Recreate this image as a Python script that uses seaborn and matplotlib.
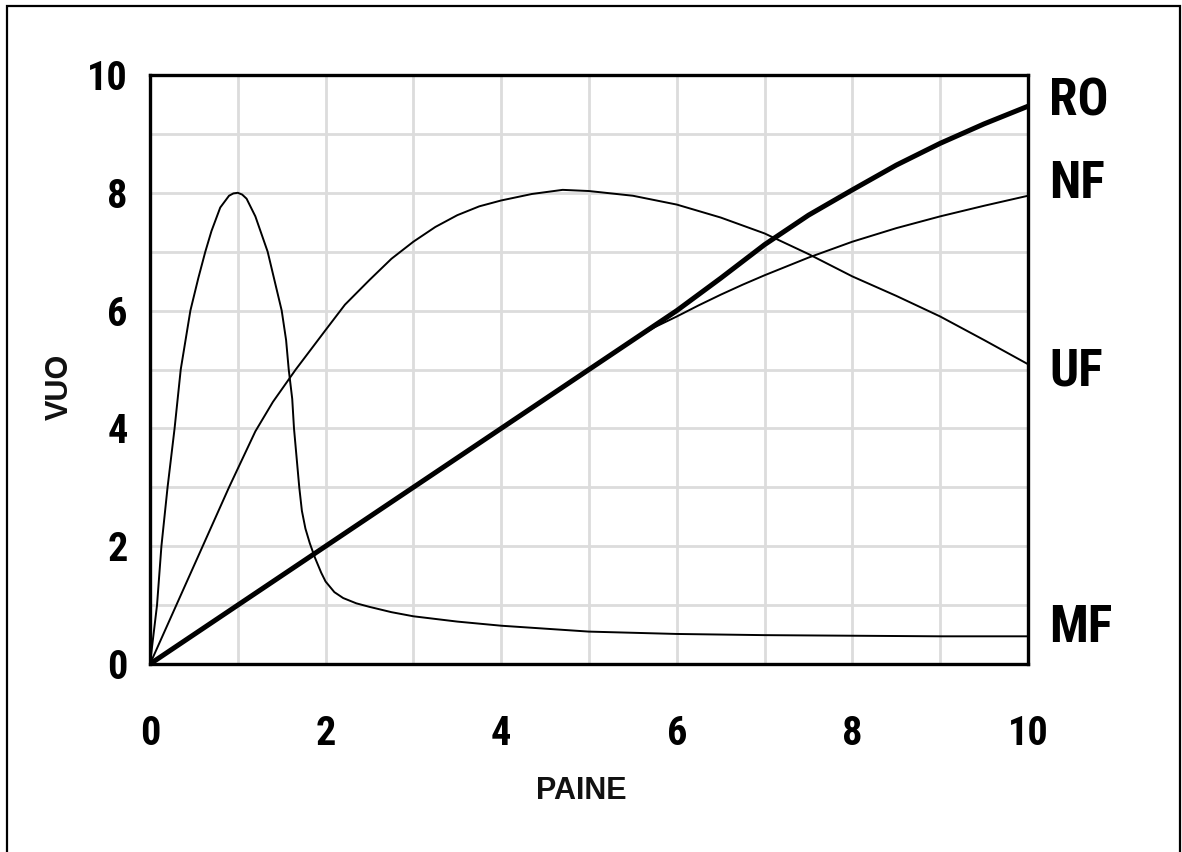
import matplotlib
matplotlib.use("Agg")
import matplotlib.pyplot as plt
from matplotlib import font_manager
from matplotlib.font_manager import FontProperties
from matplotlib.patches import Rectangle
import seaborn as sns
import pandas as pd

# ---- data ----
x_ticks = [0, 2, 4, 6, 8, 10]
y_ticks = [0, 2, 4, 6, 8, 10]

mf_x = [0, 0.08, 0.13, 0.2, 0.28, 0.35, 0.46, 0.55, 0.63, 0.7, 0.8, 0.9, 0.95, 1.0, 1.05, 1.1,
        1.2, 1.27, 1.34, 1.42, 1.5, 1.55, 1.58, 1.62, 1.64, 1.67, 1.7, 1.73, 1.77, 1.82, 1.88,
        1.95, 2.0, 2.1, 2.2, 2.35, 2.5, 2.75, 3.0, 3.5, 4.0, 4.5, 5.0, 6.0, 7.0, 8.0, 9.0, 10.0]
mf_y = [0, 1, 2, 3, 4, 5, 6, 6.55, 7.0, 7.35, 7.75, 7.95, 7.99, 8.0, 7.97, 7.9,
        7.6, 7.3, 7.0, 6.5, 6.0, 5.5, 5.0, 4.5, 4.0, 3.5, 3.0, 2.6, 2.3, 2.05, 1.8,
        1.55, 1.4, 1.22, 1.12, 1.03, 0.97, 0.88, 0.81, 0.72, 0.65, 0.6, 0.55, 0.51, 0.49, 0.48, 0.47, 0.47]

uf_x = [0, 0.3, 0.6, 0.9, 1.2, 1.4, 1.66, 2.0, 2.22, 2.5, 2.75, 3.0, 3.25, 3.5, 3.75, 4.0,
        4.35, 4.7, 5.0, 5.5, 6.0, 6.5, 7.0, 7.5, 8.0, 8.5, 9.0, 9.5, 10.0]
uf_y = [0, 1, 2, 3, 3.95, 4.45, 5.0, 5.67, 6.1, 6.52, 6.88, 7.17, 7.42, 7.62, 7.77, 7.87,
        7.98, 8.05, 8.03, 7.95, 7.8, 7.58, 7.31, 6.96, 6.58, 6.25, 5.9, 5.5, 5.09]

nf_x = [0, 5.5, 5.75, 6, 6.25, 6.5, 6.75, 7, 7.5, 8, 8.5, 9, 9.5, 10]
nf_y = [0, 5.5, 5.72, 5.9, 6.09, 6.27, 6.44, 6.6, 6.9, 7.17, 7.4, 7.6, 7.78, 7.95]

ro_x = [0, 5, 6, 6.5, 7, 7.5, 8, 8.5, 9, 9.5, 10]
ro_y = [0, 5, 6, 6.55, 7.12, 7.62, 8.05, 8.47, 8.84, 9.17, 9.47]

series_names = ["RO", "NF", "UF", "MF"]
x_label = "PAINE"
y_label = "VUO"

# ---- fonts ----
regular = "Liberation Sans"


def _is_condensed(st):
    if isinstance(st, str):
        return "condensed" in st or "narrow" in st
    try:
        return int(st) < 500
    except Exception:
        return False


def pick_narrow_bold():
    entries = font_manager.fontManager.ttflist
    for e in entries:
        if e.name == "Liberation Sans Narrow" and str(e.weight) in ("bold", "700"):
            return FontProperties(fname=e.fname)
    for fam in ("Roboto Condensed", "Open Sans Condensed", "Noto Sans", "Open Sans", "Roboto"):
        for e in entries:
            if (e.name == fam or e.name.startswith(fam)) and _is_condensed(e.stretch) \
                    and str(e.weight) in ("bold", "700", "semibold", "600"):
                return FontProperties(fname=e.fname)
    return FontProperties(family=regular, weight="bold")


narrow_fp = pick_narrow_bold()

sns.set_theme(style="white")
plt.rcParams["font.family"] = [regular, "DejaVu Sans"]

W, H = 1182, 852
fig = plt.figure(figsize=(W / 100, H / 100), dpi=100)
ax = fig.add_axes([150 / W, 1 - 664 / H, (1028 - 150) / W, (664 - 75) / H])

# grid
ax.set_axisbelow(True)
ax.set_xticks(range(0, 11), minor=True)
ax.set_yticks(range(0, 11), minor=True)
ax.grid(which="minor", color="#dcdcdc", linewidth=2.0)
ax.grid(which="major", color="#dcdcdc", linewidth=2.0)

df_mf = pd.DataFrame({"x": mf_x, "y": mf_y})
df_uf = pd.DataFrame({"x": uf_x, "y": uf_y})
df_nf = pd.DataFrame({"x": nf_x, "y": nf_y})
df_ro = pd.DataFrame({"x": ro_x, "y": ro_y})

for d in (df_mf, df_uf, df_nf):
    sns.lineplot(data=d, x="x", y="y", ax=ax, color="black", linewidth=1.4,
                 sort=False, estimator=None, solid_joinstyle="round")
sns.lineplot(data=df_ro, x="x", y="y", ax=ax, color="black", linewidth=3.6,
             sort=False, estimator=None, solid_joinstyle="round")

ax.set_xlim(0, 10)
ax.set_ylim(0, 10)
ax.set_xticks(x_ticks)
ax.set_yticks(y_ticks)
ax.set_xticklabels([str(t) for t in x_ticks])
ax.set_yticklabels([str(t) for t in y_ticks])
ax.tick_params(axis="both", which="both", length=0)
ax.tick_params(axis="x", pad=37)
ax.tick_params(axis="y", pad=16)
tick_fp = narrow_fp.copy()
tick_fp.set_size(29)
for lab in ax.get_xticklabels() + ax.get_yticklabels():
    lab.set_fontproperties(tick_fp)
    lab.set_color("black")

for s in ax.spines.values():
    s.set_visible(True)
    s.set_color("black")
    s.set_linewidth(2.4)

ax.set_xlabel("")
ax.set_ylabel("")
fig.text(581 / W, 1 - 791 / H, x_label, ha="center", va="center", fontsize=22,
         fontweight="bold", family=regular, color="#111111")
fig.text(60 / W, 1 - 387 / H, y_label, ha="center", va="center", fontsize=22,
         fontweight="bold", family=regular, rotation=90, color="#111111")

# series labels at the right
lab_fp = narrow_fp.copy()
lab_fp.set_size(37)
label_pos = {"RO": 102, "NF": 184, "UF": 371, "MF": 628}
for name in series_names:
    fig.text(1049 / W, 1 - label_pos[name] / H, name, ha="left", va="center",
             fontproperties=lab_fp, color="black")

# outer frame
fig.add_artist(Rectangle((7 / W, -0.05), (1180 - 7) / W, 1.05 - 6 / H,
                         transform=fig.transFigure, fill=False,
                         edgecolor="black", linewidth=1.6))

fig.savefig("out.png", dpi=100)
